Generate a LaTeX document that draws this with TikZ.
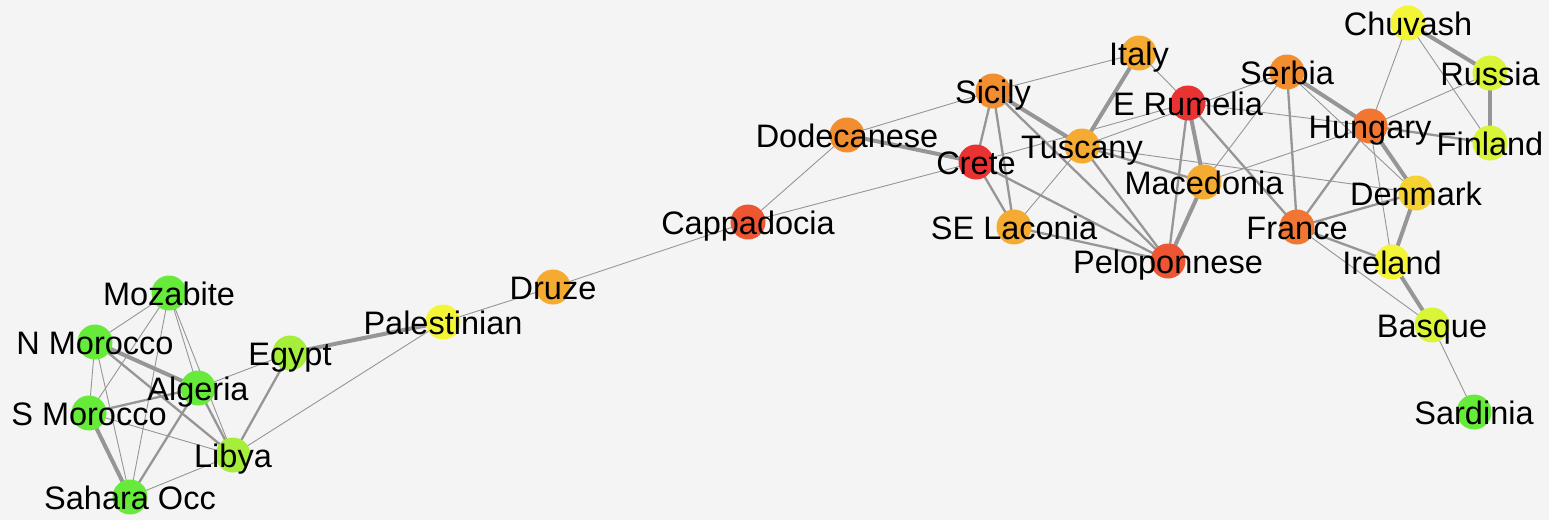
\documentclass[tikz,border=0pt]{standalone}
\usepackage{fontspec}
\setmainfont{Liberation Sans}
\definecolor{bg}{RGB}{244,244,244}
\definecolor{edgec}{RGB}{150,150,150}
\definecolor{cgreen}{RGB}{102,235,58}
\definecolor{cygreen}{RGB}{165,238,60}
\definecolor{cyellow}{RGB}{245,245,55}
\definecolor{clime}{RGB}{218,245,55}
\definecolor{cgold}{RGB}{245,210,50}
\definecolor{corange}{RGB}{245,170,50}
\definecolor{corangeb}{RGB}{242,142,48}
\definecolor{cdorange}{RGB}{240,118,50}
\definecolor{credor}{RGB}{238,85,50}
\definecolor{cred}{RGB}{235,50,50}
\pgfdeclarelayer{bgl}
\pgfdeclarelayer{edges}
\pgfdeclarelayer{front}
\pgfsetlayers{bgl,edges,main,front}
\tikzset{
  vtx/.style={circle, inner sep=0pt, minimum size=35pt, fill=#1, draw=none},
  lbl/.style={anchor=base, yshift=-12pt, inner sep=0pt, font=\fontsize{32.5}{36}\selectfont, text=black},
  thinedge/.style={draw=edgec, line width=0.9pt},
  mededge/.style={draw=edgec, line width=2.3pt},
  thickedge/.style={draw=edgec, line width=4pt},
}
\begin{document}
\begin{tikzpicture}[x=1pt, y=-1pt]
\begin{pgfonlayer}{bgl}
\fill[bg] (0,0) rectangle (1549,520);
\end{pgfonlayer}
\useasboundingbox (0,0) rectangle (1549,520);
% circles
\node[vtx=cgreen] (Mozabite) at (169,293) {};
\node[vtx=cgreen] (NMorocco) at (95,342) {};
\node[vtx=cgreen] (SMorocco) at (89,413) {};
\node[vtx=cgreen] (Algeria) at (198,388) {};
\node[vtx=cygreen] (Egypt) at (290,353) {};
\node[vtx=cygreen] (Libya) at (233,455) {};
\node[vtx=cgreen] (SaharaOcc) at (130,497) {};
\node[vtx=cyellow] (Palestinian) at (443,322) {};
\node[vtx=corange] (Druze) at (553,287) {};
\node[vtx=credor] (Cappadocia) at (748,222) {};
\node[vtx=corangeb] (Dodecanese) at (847,135) {};
\node[vtx=cred] (Crete) at (976,162) {};
\node[vtx=corangeb] (Sicily) at (993,91) {};
\node[vtx=corange] (Italy) at (1139,53) {};
\node[vtx=cred] (ERumelia) at (1188,103) {};
\node[vtx=corange] (Tuscany) at (1082,146) {};
\node[vtx=corange] (Macedonia) at (1204,182) {};
\node[vtx=corange] (SELaconia) at (1014,227) {};
\node[vtx=credor] (Peloponnese) at (1168,261) {};
\node[vtx=corangeb] (Serbia) at (1287,72) {};
\node[vtx=cdorange] (Hungary) at (1370,126) {};
\node[vtx=cdorange] (France) at (1297,227) {};
\node[vtx=cgold] (Denmark) at (1416,193) {};
\node[vtx=cyellow] (Ireland) at (1392,262) {};
\node[vtx=clime] (Basque) at (1432,325) {};
\node[vtx=cgreen] (Sardinia) at (1474,412) {};
\node[vtx=cyellow] (Chuvash) at (1408,23) {};
\node[vtx=clime] (Russia) at (1490,73) {};
\node[vtx=clime] (Finland) at (1490,143) {};
% edges
\begin{pgfonlayer}{edges}
% North Africa
\draw[thinedge] (Mozabite.center) -- (NMorocco.center);
\draw[thinedge] (Mozabite.center) -- (SMorocco.center);
\draw[thinedge] (Mozabite.center) -- (SaharaOcc.center);
\draw[thinedge] (Mozabite.center) -- (Algeria.center);
\draw[thinedge] (Mozabite.center) -- (Libya.center);
\draw[thickedge] (NMorocco.center) -- (Algeria.center);
\draw[mededge] (NMorocco.center) -- (Libya.center);
\draw[thinedge] (NMorocco.center) -- (SMorocco.center);
\draw[thinedge] (NMorocco.center) -- (SaharaOcc.center);
\draw[mededge] (SMorocco.center) -- (Algeria.center);
\draw[thinedge] (SMorocco.center) -- (Libya.center);
\draw[thickedge] (SMorocco.center) -- (SaharaOcc.center);
\draw[mededge] (Algeria.center) -- (SaharaOcc.center);
\draw[mededge] (Algeria.center) -- (Libya.center);
\draw[thinedge] (Algeria.center) -- (Egypt.center);
\draw[thinedge] (Libya.center) -- (SaharaOcc.center);
\draw[mededge] (Egypt.center) -- (Libya.center);
\draw[thickedge] (Egypt.center) -- (Palestinian.center);
\draw[thinedge] (Libya.center) -- (Palestinian.center);
% chain
\draw[thinedge] (Palestinian.center) -- (Druze.center);
\draw[thinedge] (Druze.center) -- (Cappadocia.center);
\draw[thinedge] (Cappadocia.center) -- (Dodecanese.center);
\draw[thinedge] (Cappadocia.center) -- (Crete.center);
% Mediterranean
\draw[thinedge] (Dodecanese.center) -- (Sicily.center);
\draw[thickedge] (Dodecanese.center) -- (Crete.center);
\draw[thinedge] (Sicily.center) -- (Italy.center);
\draw[mededge] (Sicily.center) -- (Crete.center);
\draw[mededge] (Sicily.center) -- (SELaconia.center);
\draw[thickedge] (Sicily.center) -- (Tuscany.center);
\draw[mededge] (Sicily.center) -- (Peloponnese.center);
\draw[mededge] (Crete.center) -- (SELaconia.center);
\draw[mededge] (Crete.center) -- (Peloponnese.center);
\draw[thinedge] (Crete.center) -- (ERumelia.center);
\draw[thickedge] (Tuscany.center) -- (Italy.center);
\draw[thinedge] (Tuscany.center) -- (SELaconia.center);
\draw[mededge] (Tuscany.center) -- (Peloponnese.center);
\draw[mededge] (Tuscany.center) -- (Macedonia.center);
\draw[thinedge] (Tuscany.center) -- (Denmark.center);
\draw[thinedge] (Tuscany.center) -- (Serbia.center);
\draw[mededge] (SELaconia.center) -- (Peloponnese.center);
\draw[thinedge] (Italy.center) -- (ERumelia.center);
\draw[thickedge] (ERumelia.center) -- (Macedonia.center);
\draw[mededge] (ERumelia.center) -- (Peloponnese.center);
\draw[mededge] (ERumelia.center) -- (France.center);
\draw[thinedge] (ERumelia.center) -- (Hungary.center);
\draw[thickedge] (Macedonia.center) -- (Peloponnese.center);
\draw[thinedge] (Macedonia.center) -- (Serbia.center);
\draw[thinedge] (Macedonia.center) -- (Hungary.center);
% Europe
\draw[mededge] (Serbia.center) -- (France.center);
\draw[thickedge] (Serbia.center) -- (Hungary.center);
\draw[thinedge] (Serbia.center) -- (Denmark.center);
\draw[mededge] (Hungary.center) -- (France.center);
\draw[thickedge] (Hungary.center) -- (Denmark.center);
\draw[thinedge] (Hungary.center) -- (Ireland.center);
\draw[thinedge] (Hungary.center) -- (Chuvash.center);
\draw[thinedge] (Hungary.center) -- (Russia.center);
\draw[mededge] (Hungary.center) -- (Finland.center);
\draw[mededge] (France.center) -- (Denmark.center);
\draw[mededge] (France.center) -- (Ireland.center);
\draw[thinedge] (France.center) -- (Basque.center);
\draw[thickedge] (Denmark.center) -- (Ireland.center);
\draw[thickedge] (Ireland.center) -- (Basque.center);
\draw[thinedge] (Basque.center) -- (Sardinia.center);
\draw[thickedge] (Chuvash.center) -- (Russia.center);
\draw[thinedge] (Chuvash.center) -- (Finland.center);
\draw[thickedge] (Russia.center) -- (Finland.center);
\end{pgfonlayer}
% labels
\begin{pgfonlayer}{front}
\node[lbl] (Mozabite-l) at (Mozabite) {Mozabite};
\node[lbl] (NMorocco-l) at (NMorocco) {N Morocco};
\node[lbl] (SMorocco-l) at (SMorocco) {S Morocco};
\node[lbl] (Algeria-l) at (Algeria) {Algeria};
\node[lbl] (Egypt-l) at (Egypt) {Egypt};
\node[lbl] (Libya-l) at (Libya) {Libya};
\node[lbl] (SaharaOcc-l) at (SaharaOcc) {Sahara Occ};
\node[lbl] (Palestinian-l) at (Palestinian) {Palestinian};
\node[lbl] (Druze-l) at (Druze) {Druze};
\node[lbl] (Cappadocia-l) at (Cappadocia) {Cappadocia};
\node[lbl] (Dodecanese-l) at (Dodecanese) {Dodecanese};
\node[lbl] (Crete-l) at (Crete) {Crete};
\node[lbl] (Sicily-l) at (Sicily) {Sicily};
\node[lbl] (Italy-l) at (Italy) {Italy};
\node[lbl] (ERumelia-l) at (ERumelia) {E Rumelia};
\node[lbl] (Tuscany-l) at (Tuscany) {Tuscany};
\node[lbl] (Macedonia-l) at (Macedonia) {Macedonia};
\node[lbl] (SELaconia-l) at (SELaconia) {SE Laconia};
\node[lbl] (Peloponnese-l) at (Peloponnese) {Peloponnese};
\node[lbl] (Serbia-l) at (Serbia) {Serbia};
\node[lbl] (Hungary-l) at (Hungary) {Hungary};
\node[lbl] (France-l) at (France) {France};
\node[lbl] (Denmark-l) at (Denmark) {Denmark};
\node[lbl] (Ireland-l) at (Ireland) {Ireland};
\node[lbl] (Basque-l) at (Basque) {Basque};
\node[lbl] (Sardinia-l) at (Sardinia) {Sardinia};
\node[lbl] (Chuvash-l) at (Chuvash) {Chuvash};
\node[lbl] (Russia-l) at (Russia) {Russia};
\node[lbl] (Finland-l) at (Finland) {Finland};
\end{pgfonlayer}
\end{tikzpicture}
\end{document}
